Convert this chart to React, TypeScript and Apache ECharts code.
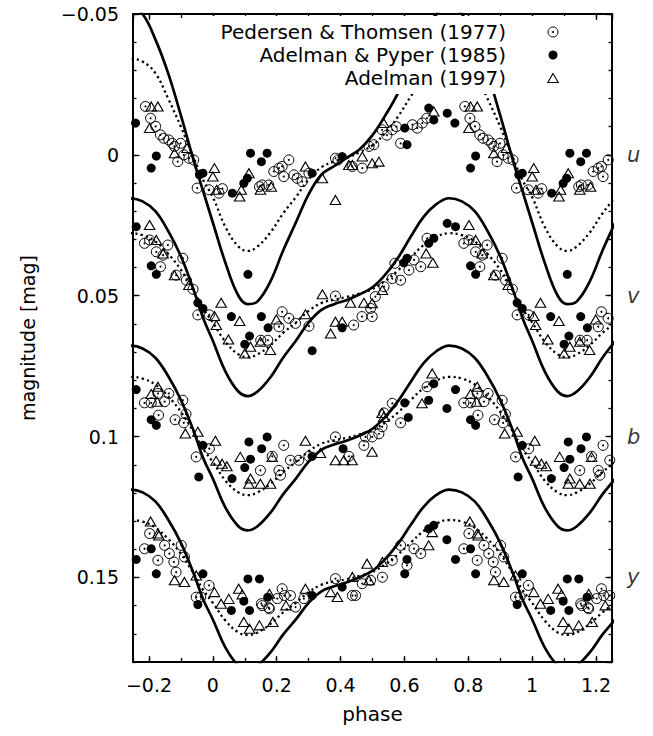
import React, { useEffect, useRef } from 'react';
import * as echarts from 'echarts';

type Pt = [number, number];

// ---- model curves (phase grid 0..1, values in mag) ----
const curvePhases = [0, 0.04, 0.08, 0.11, 0.14, 0.18, 0.22, 0.26, 0.30, 0.34, 0.38, 0.42, 0.46, 0.50, 0.54, 0.58, 0.62, 0.66, 0.70, 0.74, 0.78, 0.82, 0.86, 0.90, 0.94, 0.97];

const uSolid = [0.024, 0.0385, 0.050, 0.053, 0.052, 0.045, 0.034, 0.024, 0.014, 0.007, 0.004, 0.001, -0.002, -0.007, -0.014, -0.022, -0.033, -0.043, -0.050, -0.053, -0.050, -0.041, -0.029, -0.014, 0.002, 0.013];
const uDotted = [0.015, 0.0257, 0.0325, 0.0341, 0.0325, 0.0276, 0.0208, 0.015, 0.0087, 0.0044, 0.0024, 0.001, -0.001, -0.0034, -0.0078, -0.0136, -0.0208, -0.0276, -0.0321, -0.0341, -0.0331, -0.029, -0.020, -0.010, 0.001, 0.009];
const vSolid = [0.066, 0.077, 0.084, 0.0856, 0.084, 0.079, 0.072, 0.066, 0.0595, 0.055, 0.053, 0.0515, 0.0495, 0.047, 0.0425, 0.0365, 0.029, 0.022, 0.0175, 0.0154, 0.0165, 0.020, 0.027, 0.036, 0.048, 0.058];
const vDotted = [0.0595, 0.0664, 0.0708, 0.0718, 0.0708, 0.0676, 0.0632, 0.0595, 0.0554, 0.0526, 0.0514, 0.0504, 0.0492, 0.0476, 0.0447, 0.041, 0.0364, 0.032, 0.0291, 0.0278, 0.0285, 0.0307, 0.0351, 0.0408, 0.0483, 0.0546];
const bSolid = [0.1149, 0.1253, 0.1318, 0.1333, 0.1318, 0.1271, 0.1205, 0.1149, 0.1089, 0.1047, 0.1028, 0.1014, 0.0996, 0.0972, 0.093, 0.0874, 0.0805, 0.0739, 0.0697, 0.0677, 0.0687, 0.072, 0.0785, 0.087, 0.098, 0.1077];
const bDotted = [0.109, 0.1157, 0.1198, 0.1208, 0.1198, 0.1168, 0.1126, 0.109, 0.1052, 0.1025, 0.1013, 0.1004, 0.0992, 0.0977, 0.095, 0.0914, 0.087, 0.0828, 0.0801, 0.0788, 0.0794, 0.0815, 0.0857, 0.0912, 0.0983, 0.1044];
const ySolid = [0.1649, 0.175, 0.1813, 0.1828, 0.1813, 0.1767, 0.1703, 0.1649, 0.159, 0.1549, 0.1531, 0.1517, 0.1499, 0.1476, 0.1434, 0.138, 0.1313, 0.1249, 0.1207, 0.1188, 0.1198, 0.123, 0.1294, 0.1377, 0.1486, 0.1578];
const yDotted = [0.159, 0.1654, 0.1695, 0.1704, 0.1695, 0.1665, 0.1624, 0.159, 0.1552, 0.1526, 0.1514, 0.1506, 0.1494, 0.148, 0.1453, 0.1418, 0.1376, 0.1335, 0.1308, 0.1296, 0.1302, 0.1323, 0.1363, 0.1416, 0.1486, 0.1545];

// ---- observations [phase, mag] ----
const uPT: Pt[] = [[0.019,0.0136],[0.030,0.0120],[0.146,0.0113],[0.154,0.0107],[0.175,0.0107],[0.191,0.0059],[0.207,0.0047],[0.217,0.0041],[0.222,0.0077],[0.238,0.0018],[0.254,0.0071],[0.264,0.0083],[0.280,0.0095],[0.301,0.0065],[0.384,0.0012],[0.392,0.0018],[0.436,0.0041],[0.468,0.0047],[0.489,-0.0030],[0.504,-0.0036],[0.530,-0.0089],[0.545,-0.0070],[0.562,-0.0089],[0.575,-0.0100],[0.588,-0.0041],[0.625,-0.0107],[0.640,-0.0095],[0.656,-0.0113],[0.670,-0.0130],[0.789,-0.0172],[0.805,-0.0130],[0.821,-0.0101],[0.836,-0.0071],[0.846,-0.0059],[0.862,-0.0053],[0.873,-0.0041],[0.880,-0.0030],[0.890,0.0024],[0.899,-0.0041],[0.909,0.0000],[0.925,0.0012],[0.940,0.0018],[0.951,0.0118],[0.988,0.0124]];
const uAP: Pt[] = [[0.061,0.0136],[0.097,0.0101],[0.108,0.0083],[0.118,-0.0006],[0.152,0.0024],[0.170,-0.0006],[0.311,0.0065],[0.405,0.0006],[0.601,-0.0095],[0.608,-0.0036],[0.676,-0.0166],[0.692,-0.0124],[0.734,-0.0148],[0.758,-0.0113],[0.807,0.0047],[0.823,0.0004],[0.958,0.0071],[0.969,0.0065]];
const uA97: Pt[] = [[0.000,0.0077],[0.005,0.0047],[0.012,0.0124],[0.084,0.0148],[0.089,0.0124],[0.113,0.0065],[0.149,0.0124],[0.183,0.0113],[0.290,0.0041],[0.343,0.0083],[0.384,0.0160],[0.426,0.0036],[0.437,0.0036],[0.468,0.0006],[0.499,0.0030],[0.520,0.0024],[0.535,-0.0113],[0.692,-0.0154],[0.802,-0.0095],[0.807,-0.0172],[0.828,-0.0172],[0.880,-0.0006],[0.919,-0.0024]];

const vPT: Pt[] = [[0.150,0.0658],[0.172,0.0658],[0.207,0.0610],[0.217,0.0557],[0.238,0.0580],[0.259,0.0598],[0.301,0.0608],[0.384,0.0501],[0.441,0.0604],[0.467,0.0574],[0.494,0.0545],[0.499,0.0574],[0.509,0.0503],[0.536,0.0468],[0.562,0.0439],[0.570,0.0385],[0.588,0.0445],[0.614,0.0409],[0.630,0.0373],[0.651,0.0397],[0.671,0.0296],[0.786,0.0314],[0.802,0.0302],[0.823,0.0344],[0.836,0.0397],[0.844,0.0356],[0.859,0.0320],[0.885,0.0427],[0.906,0.0367],[0.917,0.0445],[0.938,0.0477],[0.953,0.0568],[0.989,0.0568]];
const vAP: Pt[] = [[0.058,0.0574],[0.100,0.0672],[0.110,0.0424],[0.115,0.0643],[0.152,0.0574],[0.173,0.0614],[0.311,0.0695],[0.405,0.0614],[0.598,0.0383],[0.608,0.0367],[0.676,0.0314],[0.692,0.0296],[0.734,0.0243],[0.760,0.0255],[0.807,0.0394],[0.823,0.0424],[0.953,0.0525],[0.969,0.0545]];
const vA97: Pt[] = [[0.005,0.0572],[0.011,0.0604],[0.026,0.0525],[0.049,0.0655],[0.084,0.0590],[0.100,0.0705],[0.118,0.0681],[0.149,0.0663],[0.180,0.0693],[0.199,0.0584],[0.290,0.0566],[0.343,0.0495],[0.369,0.0634],[0.384,0.0592],[0.405,0.0592],[0.431,0.0525],[0.473,0.0525],[0.499,0.0527],[0.531,0.0480],[0.668,0.0350],[0.689,0.0383],[0.802,0.0249],[0.823,0.0302],[0.844,0.0350],[0.880,0.0427],[0.925,0.0462]];

const bPT: Pt[] = [[0.149,0.1120],[0.186,0.1070],[0.207,0.1120],[0.212,0.1137],[0.222,0.1031],[0.243,0.1084],[0.269,0.1084],[0.301,0.1070],[0.384,0.1001],[0.426,0.1070],[0.473,0.1031],[0.478,0.1001],[0.499,0.1001],[0.520,0.0990],[0.530,0.0965],[0.536,0.0916],[0.562,0.0882],[0.588,0.0951],[0.671,0.0823],[0.786,0.0880],[0.807,0.0880],[0.828,0.0847],[0.830,0.0924],[0.849,0.0876],[0.862,0.0847],[0.882,0.0940],[0.906,0.0871],[0.909,0.0951],[0.916,0.0920],[0.948,0.1072],[0.989,0.1043]];
const bAP: Pt[] = [[0.060,0.1149],[0.100,0.1110],[0.113,0.1019],[0.118,0.1080],[0.153,0.1043],[0.170,0.1001],[0.311,0.1070],[0.408,0.1043],[0.601,0.0880],[0.612,0.0932],[0.676,0.0871],[0.692,0.0812],[0.733,0.0900],[0.760,0.0833],[0.807,0.0940],[0.823,0.0960],[0.956,0.1143],[0.969,0.1031]];
const bA97: Pt[] = [[0.008,0.1015],[0.010,0.1086],[0.029,0.1096],[0.044,0.1105],[0.086,0.1072],[0.113,0.1167],[0.118,0.1149],[0.149,0.1167],[0.181,0.1167],[0.186,0.1072],[0.290,0.1015],[0.337,0.1058],[0.384,0.1084],[0.410,0.1084],[0.436,0.1084],[0.499,0.1054],[0.530,0.0916],[0.535,0.0930],[0.655,0.0882],[0.687,0.0776],[0.807,0.0849],[0.828,0.0823],[0.826,0.0876],[0.914,0.0989],[0.953,0.0983]];

const yPT: Pt[] = [[0.152,0.1593],[0.155,0.1600],[0.175,0.1607],[0.177,0.1611],[0.202,0.1575],[0.217,0.1540],[0.224,0.1564],[0.243,0.1564],[0.259,0.1605],[0.285,0.1575],[0.384,0.1504],[0.437,0.1564],[0.447,0.1564],[0.468,0.1522],[0.494,0.1510],[0.531,0.1499],[0.562,0.1439],[0.588,0.1386],[0.608,0.1457],[0.630,0.1398],[0.651,0.1415],[0.786,0.1398],[0.802,0.1344],[0.828,0.1439],[0.849,0.1386],[0.864,0.1415],[0.878,0.1445],[0.885,0.1481],[0.901,0.1386],[0.911,0.1427],[0.948,0.1570],[0.962,0.1569],[0.988,0.1528]];
const yAP: Pt[] = [[0.058,0.1617],[0.097,0.1584],[0.110,0.1505],[0.115,0.1617],[0.146,0.1505],[0.172,0.1570],[0.311,0.1564],[0.405,0.1534],[0.601,0.1487],[0.608,0.1436],[0.676,0.1327],[0.692,0.1315],[0.733,0.1366],[0.760,0.1436],[0.807,0.1398],[0.823,0.1487],[0.953,0.1596],[0.969,0.1487]];
const yA97: Pt[] = [[0.005,0.1552],[0.026,0.1593],[0.050,0.1576],[0.081,0.1540],[0.092,0.1560],[0.097,0.1658],[0.115,0.1682],[0.146,0.1670],[0.177,0.1558],[0.188,0.1658],[0.229,0.1599],[0.290,0.1540],[0.369,0.1552],[0.390,0.1569],[0.437,0.1498],[0.483,0.1451],[0.489,0.1510],[0.531,0.1445],[0.676,0.1386],[0.687,0.1339],[0.805,0.1301],[0.828,0.1344],[0.831,0.1351],[0.880,0.1510],[0.911,0.1516],[0.948,0.1493]];

const bandNames = ['u', 'v', 'b', 'y'];
const bandCenters = [0, 0.05, 0.1, 0.15];
const legendNames = ['Pedersen & Thomsen (1977)', 'Adelman & Pyper (1985)', 'Adelman (1997)'];

const PHASE_MIN = -0.25;
const PHASE_MAX = 1.25;

function wrap(points: Pt[], lo: number, hi: number): Pt[] {
  const out: Pt[] = [];
  for (const k of [-1, 0, 1]) {
    for (const [p, v] of points) {
      const q = Math.round((p + k) * 10000) / 10000;
      if (q >= lo && q <= hi) out.push([q, v]);
    }
  }
  return out.sort((a, b) => a[0] - b[0]);
}
const curve = (vals: number[]): Pt[] => wrap(curvePhases.map((p, i) => [p, vals[i]] as Pt), -0.45, 1.45);
const obs = (...sets: Pt[][]): Pt[] => sets.flatMap((s) => wrap(s, PHASE_MIN - 0.005, PHASE_MAX + 0.005));

const FONT = 'DejaVu Sans';
const fmt = (v: number) => {
  const s = Math.abs(v) < 1e-9 ? '0' : String(+v.toFixed(2));
  return s.replace('-', '\u2212');
};

export default function App() {
  const ref = useRef<HTMLDivElement>(null);
  useEffect(() => {
    if (!ref.current) return;
    const chart = echarts.init(ref.current, undefined, { renderer: 'svg' });
    const black = '#000';
    const lineSeries = (vals: number[], dotted: boolean) => ({
      type: 'line',
      data: curve(vals),
      symbol: 'none',
      showSymbol: false,
      smooth: 0.4,
      silent: true,
      clip: true,
      z: 2,
      lineStyle: dotted
        ? { color: black, width: 2.3, type: [2.2, 3.2], cap: 'butt' }
        : { color: black, width: 2.7 },
    });
    const xBase = (position: string, major: boolean) => ({
      type: 'value',
      position,
      min: PHASE_MIN,
      max: PHASE_MAX,
      splitNumber: major ? 7 : 15,
      axisLine: { show: major, onZero: false, lineStyle: { color: black, width: 2 } },
      axisTick: { show: true, inside: true, length: major ? 6 : 4, lineStyle: { color: black, width: 1.3 } },
      axisLabel: { show: false },
      splitLine: { show: false },
    });
    const yBase = (position: string, major: boolean) => ({
      type: 'value',
      position,
      inverse: true,
      min: -0.05,
      max: 0.18,
      interval: major ? 0.05 : 0.01,
      axisLine: { show: major, onZero: false, lineStyle: { color: black, width: 2 } },
      axisTick: { show: true, inside: true, length: major ? 6.5 : 3.5, lineStyle: { color: black, width: 1.3 } },
      axisLabel: { show: false },
      splitLine: { show: false },
    });
    const xAxes: any[] = [xBase('bottom', true), xBase('bottom', false), xBase('top', true), xBase('top', false)];
    xAxes[0].axisLabel = { show: true, formatter: fmt, fontSize: 19, fontFamily: FONT, color: black, margin: 13, showMinLabel: false, showMaxLabel: false };
    xAxes[0].name = 'phase';
    xAxes[0].nameLocation = 'middle';
    xAxes[0].nameGap = 42;
    xAxes[0].nameTextStyle = { fontSize: 20, fontFamily: FONT, color: black };
    const yAxes: any[] = [yBase('left', true), yBase('left', false), yBase('right', true), yBase('right', false)];
    yAxes[0].axisLabel = { show: true, formatter: fmt, fontSize: 19, fontFamily: FONT, color: black, margin: 14, showMaxLabel: false };
    yAxes[0].name = 'magnitude [mag]';
    yAxes[0].nameLocation = 'middle';
    yAxes[0].nameGap = 96;
    yAxes[0].nameTextStyle = { fontSize: 19, fontFamily: FONT, color: black };

    const ptData = obs(uPT, vPT, bPT, yPT);
    const lx = 506, sx = 553, ly = [32, 55, 78];

    chart.setOption({
      animation: false,
      backgroundColor: '#fff',
      grid: { left: 133, right: 41, top: 14, bottom: 74, containLabel: false, outerBoundsMode: 'none' },
      xAxis: xAxes,
      yAxis: yAxes,
      series: [
        lineSeries(uSolid, false), lineSeries(uDotted, true),
        lineSeries(vSolid, false), lineSeries(vDotted, true),
        lineSeries(bSolid, false), lineSeries(bDotted, true),
        lineSeries(ySolid, false), lineSeries(yDotted, true),
        {
          name: legendNames[0], type: 'scatter', data: ptData, symbol: 'circle', symbolSize: 10, z: 3,
          itemStyle: { color: 'rgba(0,0,0,0)', borderColor: black, borderWidth: 1, opacity: 1 },
        },
        {
          name: legendNames[0] + ' centre', type: 'scatter', data: ptData, symbol: 'circle', symbolSize: 2, z: 3,
          itemStyle: { color: black, opacity: 1 },
        },
        {
          name: legendNames[1], type: 'scatter', data: obs(uAP, vAP, bAP, yAP), symbol: 'circle', symbolSize: 9, z: 4,
          itemStyle: { color: black, opacity: 1 },
        },
        {
          name: legendNames[2], type: 'scatter', data: obs(uA97, vA97, bA97, yA97), symbol: 'triangle', symbolSize: [10.5, 9], z: 5,
          itemStyle: { color: 'rgba(0,0,0,0)', borderColor: black, borderWidth: 1.1, opacity: 1 },
        },
        {
          name: 'bands', type: 'scatter', symbolSize: 0, silent: true, clip: false,
          data: bandCenters.map((c) => [PHASE_MAX, c]),
          label: {
            show: true, position: 'right', distance: 15,
            formatter: (p: any) => bandNames[p.dataIndex],
            fontSize: 21, fontStyle: 'italic', fontFamily: FONT, color: black,
          },
        },
      ],
      graphic: [
        { type: 'rect', z: 100, shape: { x: 205, y: 16, width: 375, height: 78 }, style: { fill: '#fff' } },
        ...legendNames.map((t, i) => ({
          type: 'text', z: 101, x: lx, y: ly[i],
          style: { text: t, align: 'right', verticalAlign: 'middle', textAlign: 'right', textVerticalAlign: 'middle', fontSize: 20, fontFamily: FONT, fill: black },
        })),
        { type: 'circle', z: 101, shape: { cx: sx, cy: ly[0], r: 5 }, style: { fill: 'none', stroke: black, lineWidth: 1 } },
        { type: 'circle', z: 101, shape: { cx: sx, cy: ly[0], r: 1 }, style: { fill: black } },
        { type: 'circle', z: 101, shape: { cx: sx, cy: ly[1], r: 4.5 }, style: { fill: black } },
        { type: 'polygon', z: 101, shape: { points: [[sx, ly[2] - 4.5], [sx - 5.25, ly[2] + 4.5], [sx + 5.25, ly[2] + 4.5]] }, style: { fill: 'none', stroke: black, lineWidth: 1.1 } },
      ],
    } as any);
    return () => chart.dispose();
  }, []);
  return <div ref={ref} style={{ position: 'absolute', left: 0, top: 0, width: 653, height: 736 }} />;
}
